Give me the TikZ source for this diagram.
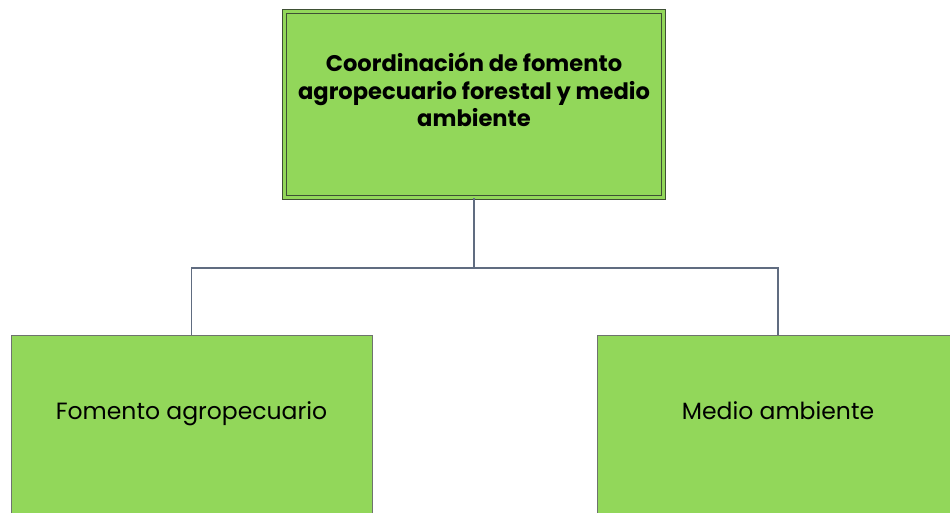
\documentclass[tikz,border=0pt]{standalone}
\usepackage{fontspec}
\setmainfont{Poppins}
\definecolor{boxgreen}{RGB}{146,215,90}
\definecolor{topedge}{RGB}{62,80,52}
\definecolor{boxedge}{RGB}{110,115,110}
\definecolor{linkc}{RGB}{96,108,128}
\tikzset{
  topbox/.style={draw=topedge, line width=1pt, double=boxgreen, double distance=2.6pt, fill=boxgreen, inner sep=0pt, minimum width=379pt, minimum height=186pt},
  subbox/.style={draw=boxedge, line width=0.9pt, fill=boxgreen, inner sep=0pt, minimum width=361pt, minimum height=195pt},
  link/.style={draw=linkc, line width=1.5pt},
  toptext/.style={align=center, font=\fontsize{22.6}{27.5}\selectfont\bfseries, inner sep=0pt},
  subtext/.style={font=\fontsize{23.5}{27}\selectfont, inner sep=0pt}
}
\begin{document}
\begin{tikzpicture}[x=1pt,y=-1pt]
\useasboundingbox (0,0) rectangle (950,512);
\clip (0,0) rectangle (950,512);
\node[topbox] (top) at (474,104.5) {};
\node[toptext] (toplabel) at (474,90) {Coordinación de fomento\\agropecuario forestal y medio\\ambiente};
\node[subbox] (lb) at (191.5,432.5) {};
\node[subbox] (rb) at (778,432.5) {};
\node[subtext, anchor=base] (lblabel) at (191.5,419) {Fomento agropecuario};
\node[subtext, anchor=base] (rblabel) at (778,419) {Medio ambiente};
\coordinate (mid) at (474,268);
\draw[link] (top.south) -- (mid) -| (lb.north);
\draw[link] (mid) -| (rb.north);
\end{tikzpicture}
\end{document}
